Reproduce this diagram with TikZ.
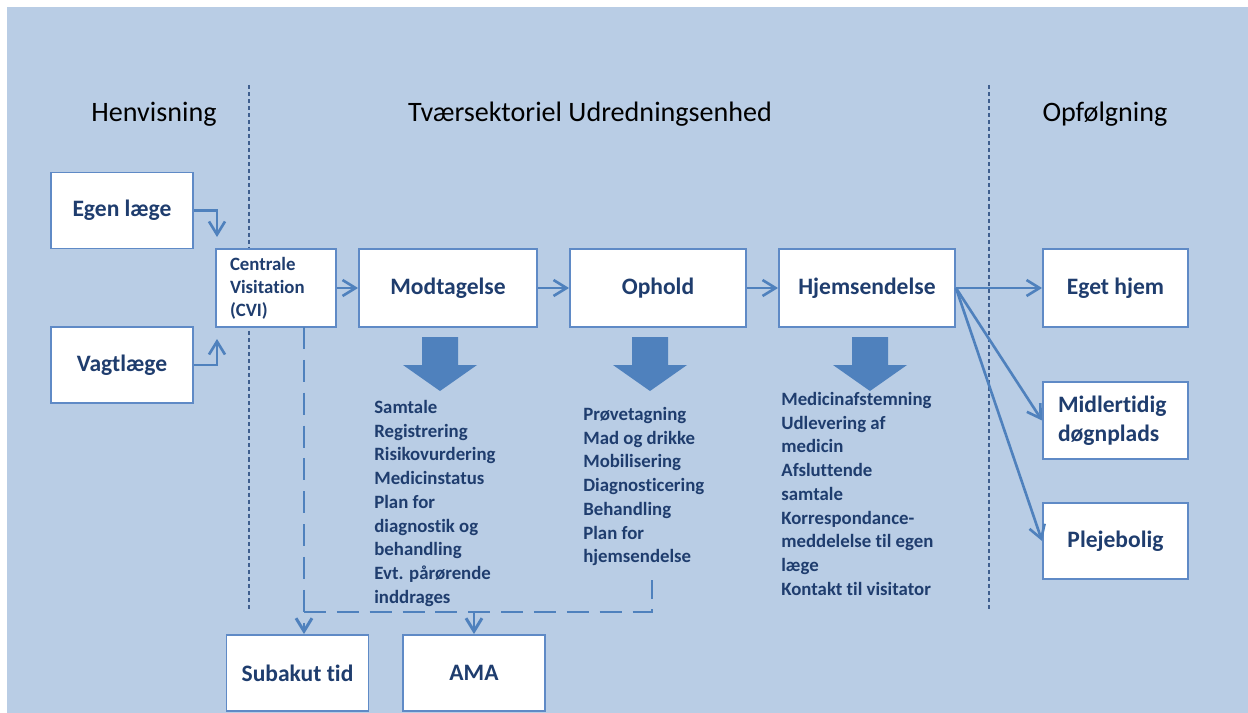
\documentclass[tikz,border=0pt]{standalone}
\usepackage{fontspec}
\setmainfont{Carlito}[Ligatures=NoCommon]
\usetikzlibrary{arrows.meta}

\definecolor{bgblue}{HTML}{B9CDE5}
\definecolor{boxline}{HTML}{5F8AC6}
\definecolor{navy}{HTML}{1F3D6E}
\definecolor{flowblue}{HTML}{4F81BD}
\definecolor{divblue}{HTML}{3F5F8F}

\begin{document}
\begin{tikzpicture}[x=0.02cm, y=-0.02cm, >={Straight Barb[length=2.6mm,width=3.2mm]},
	box/.style={draw=boxline, fill=white, line width=1.1pt, text=navy, inner sep=0pt,
		font=\bfseries\fontsize{13.4}{16.4}\selectfont, align=center,
		minimum width=28.4mm, minimum height=15.2mm},
	head/.style={font=\fontsize{16}{19}\selectfont, text=black},
	items/.style={anchor=north west, inner sep=0pt, align=left, text=navy,
		font=\bfseries\fontsize{10.7}{13.5}\selectfont},
	flow/.style={->, flowblue, line width=1.5pt},
	dline/.style={flowblue, line width=1.7pt, dash pattern=on 12.5pt off 6.2pt},
	divider/.style={divblue, line width=1.1pt, dash pattern=on 2.3pt off 1.7pt}]
	\useasboundingbox (0,0) rectangle (1248,713);
	\fill[bgblue] (7,7) rectangle (1248,713);

	% column headings and dividers
	\node[head] (hHen) at (154,114) {Henvisning};
	\node[head] (hTue) at (590,114) {Tværsektoriel Udredningsenhed};
	\node[head] (hOpf) at (1105,114) {Opfølgning};
	\draw[divider] (249,85) -- (249,612);
	\draw[divider] (989,85) -- (989,612);

	% boxes
	\node[box] (egen) at (122,210.5) {Egen læge};
	\node[box] (vagt) at (122,365) {Vagtlæge};
	\node[box, minimum width=24mm, minimum height=15.6mm, text width=18.4mm, align=left,
		font=\bfseries\fontsize{10.7}{13}\selectfont] (cvi) at (276,288) {Centrale\\Visitation\\(CVI)};
	\node[box, minimum width=35.6mm, minimum height=15.6mm] (modt) at (448,288) {Modtagelse};
	\node[box, minimum width=35.2mm, minimum height=15.6mm] (ophold) at (658,288) {Ophold};
	\node[box, minimum width=35.2mm, minimum height=15.6mm] (hjem) at (867,288) {Hjemsendelse};
	\node[box, minimum width=29mm, minimum height=15.6mm] (eget) at (1115.5,288) {Eget hjem};
	\node[box, minimum width=29mm, minimum height=15.4mm, text width=23mm, align=left] (midl) at (1115.5,420.5) {Midlertidig\\døgnplads};
	\node[box, minimum width=29mm] (pleje) at (1115.5,541) {Plejebolig};
	\node[box] (sub) at (297.5,673) {Subakut tid};
	\node[box] (ama) at (474,673) {AMA};

	% block arrows and their lists
	\foreach \c in {440,650,870}
		\fill[flowblue] (\c-18,337) -- (\c+18,337) -- (\c+18,365) -- (\c+37,365) -- (\c,391) -- (\c-37,365) -- (\c-18,365) -- cycle;
	\node[items] (lModt) at (374,400) {Samtale\\Registrering\\Risikovurdering\\Medicinstatus\\Plan for\\diagnostik og\\behandling\\Evt. pårørende\\inddrages};
	\node[items] (lOph) at (583,407) {Prøvetagning\\Mad og drikke\\Mobilisering\\Diagnosticering\\Behandling\\Plan for\\hjemsendelse};
	\node[items] (lHjem) at (781,392) {Medicinafstemning\\Udlevering af\\medicin\\Afsluttende\\samtale\\Korrespondance-\\meddelelse til egen\\læge\\Kontakt til visitator};

	% connectors
	\coordinate (inA) at (217,237);
	\coordinate (inB) at (217,339);
	\draw[flow] (egen.east) -| (inA);
	\draw[flow] (vagt.east) -| (inB);
	\draw[flow] (cvi) -- (modt);
	\draw[flow] (modt) -- (ophold);
	\draw[flow] (ophold) -- (hjem);
	\draw[flow] (hjem.east) -- (eget.west);
	\draw[flow] (hjem.east) -- (midl.west);
	\draw[flow] (hjem.east) -- (pleje.west);

	% dashed routes to Subakut tid and AMA
	\coordinate (cviOut) at (304,327);
	\coordinate (jA) at (304,612);
	\coordinate (opEnd) at (652,580);
	\draw[dline, ->] (cviOut) -- (cviOut |- sub.north);
	\draw[dline] (jA) -| (opEnd);
	\draw[flow, line width=1.7pt] (ama.north |- jA) -- (ama.north);
\end{tikzpicture}
\end{document}
